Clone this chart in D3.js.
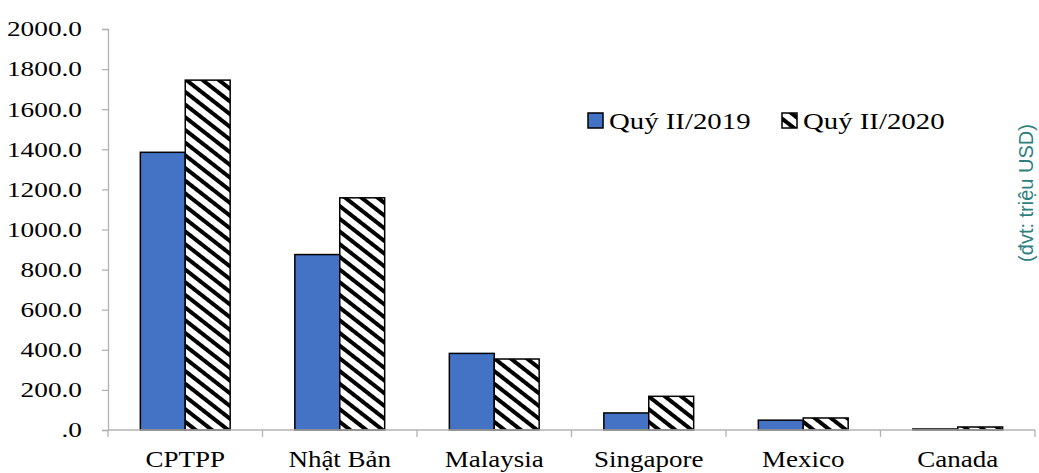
<!DOCTYPE html>
<html>
<head>
<meta charset="utf-8">
<script src="https://cdn.jsdelivr.net/npm/d3@7"></script>
<style>
  body { margin: 0; background: #fff; }
  svg { display: block; }
</style>
</head>
<body>
<div id="chart"></div>
<script>
// data
const categories = ["CPTPP", "Nhật Bản", "Malaysia", "Singapore", "Mexico", "Canada"];
const seriesNames = ["Quý II/2019", "Quý II/2020"];
const values2019 = [1385, 875, 382, 85, 49, 5];
const values2020 = [1745, 1158, 354, 168, 60, 15];
const yTicks = [0, 200, 400, 600, 800, 1000, 1200, 1400, 1600, 1800, 2000];

const W = 1039, H = 473;
const margin = {top: 29, right: 4, bottom: 43, left: 108};
const width = W - margin.left - margin.right;
const height = H - margin.top - margin.bottom;
const serif = "'Liberation Serif', 'Times New Roman', serif";
// the reference text is a little wider than plain Times at its height
const stretch = 1.2;

const svg = d3.select("#chart").append("svg")
  .attr("width", W)
  .attr("height", H);

// downward diagonal hatch for the 2020 series
const defs = svg.append("defs");
const pat = defs.append("pattern")
  .attr("id", "hatch")
  .attr("patternUnits", "userSpaceOnUse")
  .attr("width", 10)
  .attr("height", 10)
  .attr("patternTransform", "rotate(38)");
pat.append("rect").attr("width", 10).attr("height", 10).attr("fill", "#fff");
pat.append("rect").attr("x", 0).attr("y", 0).attr("width", 10).attr("height", 4).attr("fill", "#000");

const g = svg.append("g")
  .attr("transform", `translate(${margin.left},${margin.top})`);

const x0 = d3.scaleBand()
  .domain(categories)
  .range([0, width]);

const x1 = d3.scaleBand()
  .domain(seriesNames)
  .range([0, x0.bandwidth()])
  .paddingOuter(0.72)
  .paddingInner(0);

const y = d3.scaleLinear()
  .domain([0, 2000])
  .range([height, 0]);

const axisColor = "#b3b3b3";

// y axis
const yAxis = g.append("g")
  .call(d3.axisLeft(y).tickValues(yTicks).tickSize(6)
    .tickFormat(d => d === 0 ? ".0" : d3.format(".1f")(d)));
yAxis.select(".domain").attr("stroke", axisColor).attr("stroke-width", 1.3);
yAxis.selectAll(".tick line").attr("stroke", axisColor).attr("stroke-width", 1.3);
yAxis.selectAll("text")
  .attr("x", 0)
  .attr("transform", "translate(-26,0) scale(1.27,1)")
  .attr("fill", "#000")
  .style("font-family", serif)
  .style("font-size", "21.5px");

// bars
const rows = categories.map((c, i) => ({cat: c, vals: [values2019[i], values2020[i]]}));
const groups = g.selectAll(".grp")
  .data(rows)
  .enter().append("g")
  .attr("class", "grp")
  .attr("transform", d => `translate(${x0(d.cat)},0)`);

groups.selectAll("rect")
  .data(d => d.vals.map((v, j) => ({name: seriesNames[j], v: v, j: j})))
  .enter().append("rect")
  .attr("x", d => x1(d.name))
  .attr("y", d => y(d.v))
  .attr("width", x1.bandwidth())
  .attr("height", d => height - y(d.v))
  .attr("fill", d => d.j === 0 ? "#4472c4" : "url(#hatch)")
  .attr("stroke", "#000")
  .attr("stroke-width", 1.5);

// x axis
const xAxis = g.append("g")
  .attr("transform", `translate(0,${height})`);
xAxis.append("line")
  .attr("x1", 0).attr("x2", width)
  .attr("stroke", axisColor).attr("stroke-width", 1.3);
xAxis.selectAll(".xt")
  .data(d3.range(categories.length + 1))
  .enter().append("line")
  .attr("class", "xt")
  .attr("x1", i => i * x0.step())
  .attr("x2", i => i * x0.step())
  .attr("y1", 0).attr("y2", 7)
  .attr("stroke", axisColor).attr("stroke-width", 1.3);
xAxis.selectAll(".xl")
  .data(categories)
  .enter().append("text")
  .attr("class", "xl")
  .attr("transform", d => `translate(${x0(d) + x0.bandwidth() / 2},37) scale(${stretch},1)`)
  .attr("text-anchor", "middle")
  .style("font-family", serif)
  .style("font-size", "22.5px")
  .text(d => d);

// legend
const legend = svg.append("g");
const legendX = [588, 782];
seriesNames.forEach((name, j) => {
  legend.append("rect")
    .attr("x", legendX[j]).attr("y", 113)
    .attr("width", 15).attr("height", 15)
    .attr("fill", j === 0 ? "#4472c4" : "url(#hatch)")
    .attr("stroke", "#000").attr("stroke-width", 1.5);
  legend.append("text")
    .attr("transform", `translate(${legendX[j] + 21},129) scale(${stretch},1)`)
    .style("font-family", serif)
    .style("font-size", "24px")
    .text(name);
});

// unit label
svg.append("text")
  .attr("transform", "translate(1033,193) rotate(-90)")
  .attr("text-anchor", "middle")
  .attr("fill", "#2f7f7f")
  .style("font-family", "'Liberation Sans', Arial, sans-serif")
  .style("font-size", "20px")
  .text("(đvt: triệu USD)");
</script>
</body>
</html>
